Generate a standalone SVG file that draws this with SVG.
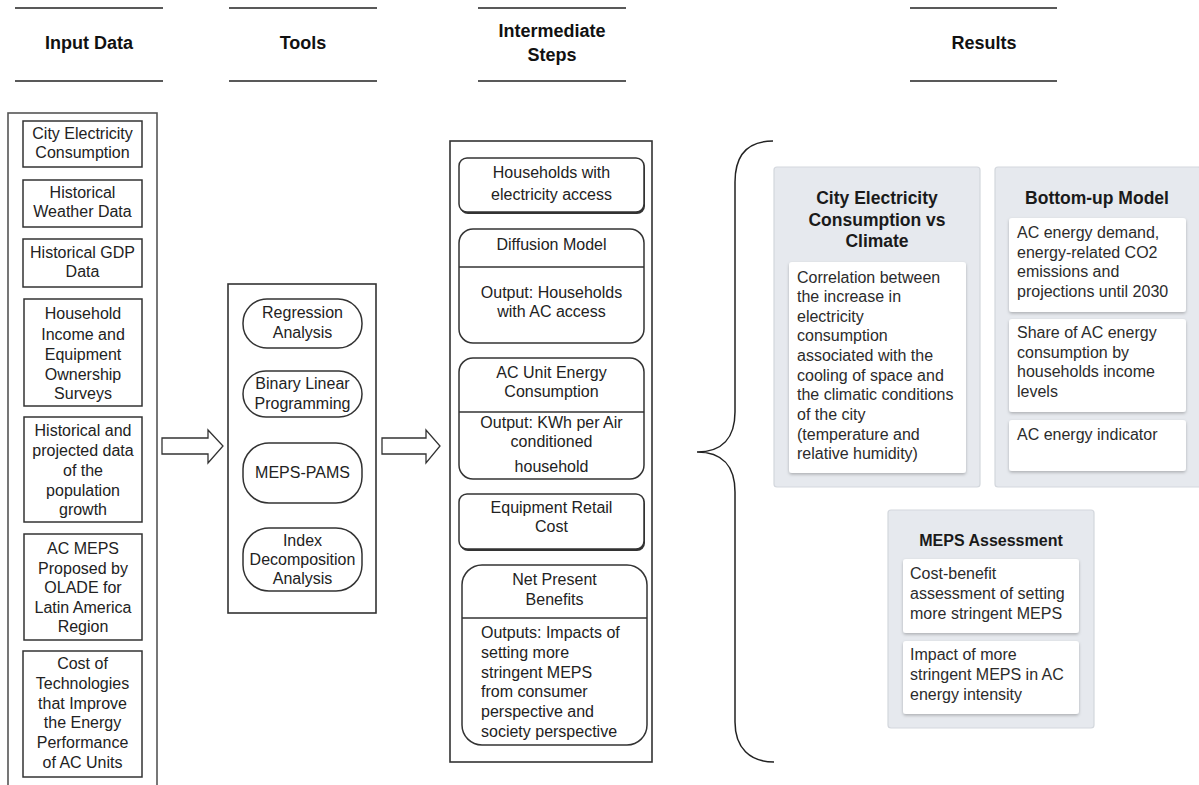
<svg xmlns="http://www.w3.org/2000/svg" width="1199" height="785" viewBox="0 0 1199 785">
<style>
text{font-family:"Liberation Sans",Arial,sans-serif;}
.hdr{font-size:18px;font-weight:bold;fill:#111;text-anchor:middle;}
.hl{stroke:#222;stroke-width:1.6;}
.t{font-size:16px;fill:#222;text-anchor:middle;}
.tl{font-size:16px;fill:#222;}
.box{fill:#fff;stroke:#333;stroke-width:1.5;}
.outer{fill:#fff;stroke:#555;stroke-width:1.6;}
.panel{fill:#e6e9ee;stroke:#d3d7dd;stroke-width:1.2;}
.card{fill:#fff;}
.pt{font-size:17.5px;font-weight:bold;fill:#1a1a1a;text-anchor:middle;}
.rt{font-size:16px;fill:#2b2b2b;}
.arrow{fill:#fff;stroke:#333;stroke-width:1.3;stroke-linejoin:miter;}
</style>
<defs>
<filter id="sh" x="-10%" y="-10%" width="120%" height="130%">
<feDropShadow dx="0" dy="1.5" stdDeviation="1.5" flood-color="#000" flood-opacity="0.25"/>
</filter>
</defs>
<rect width="1199" height="785" fill="#fff"/>

<g id="headers">
<line class="hl" x1="15" y1="8" x2="163" y2="8"/><line class="hl" x1="15" y1="81" x2="163" y2="81"/>
<text class="hdr" x="89" y="49">Input Data</text>
<line class="hl" x1="229" y1="8" x2="377" y2="8"/><line class="hl" x1="229" y1="81" x2="377" y2="81"/>
<text class="hdr" x="303" y="49">Tools</text>
<line class="hl" x1="478" y1="8" x2="626" y2="8"/><line class="hl" x1="478" y1="81" x2="626" y2="81"/>
<text class="hdr" x="552" y="37">Intermediate</text>
<text class="hdr" x="552" y="61">Steps</text>
<line class="hl" x1="910" y1="8" x2="1057" y2="8"/><line class="hl" x1="910" y1="81" x2="1057" y2="81"/>
<text class="hdr" x="984" y="49">Results</text>
</g>

<g id="input-data">
<rect class="outer" x="8" y="113" width="149" height="680"/>
<g id="in1"><rect class="box" x="23" y="121" width="119" height="46"/>
<text class="t" x="82.5" y="139">City Electricity</text><text class="t" x="82.5" y="158">Consumption</text></g>
<g id="in2"><rect class="box" x="23" y="180" width="119" height="47"/>
<text class="t" x="82.5" y="198">Historical</text><text class="t" x="82.5" y="217">Weather Data</text></g>
<g id="in3"><rect class="box" x="23" y="239" width="119" height="48"/>
<text class="t" x="82.5" y="258">Historical GDP</text><text class="t" x="82.5" y="277">Data</text></g>
<g id="in4"><rect class="box" x="24" y="299" width="118" height="107"/>
<text class="t" x="83" y="319">Household</text><text class="t" x="83" y="340">Income and</text><text class="t" x="83" y="360">Equipment</text><text class="t" x="83" y="380">Ownership</text><text class="t" x="83" y="399">Surveys</text></g>
<g id="in5"><rect class="box" x="24" y="417" width="118" height="105"/>
<text class="t" x="83" y="436">Historical and</text><text class="t" x="83" y="456">projected data</text><text class="t" x="83" y="476">of the</text><text class="t" x="83" y="496">population</text><text class="t" x="83" y="515">growth</text></g>
<g id="in6"><rect class="box" x="24" y="534" width="118" height="106"/>
<text class="t" x="83" y="554">AC MEPS</text><text class="t" x="83" y="574">Proposed by</text><text class="t" x="83" y="593">OLADE for</text><text class="t" x="83" y="613">Latin America</text><text class="t" x="83" y="632">Region</text></g>
<g id="in7"><rect class="box" x="23" y="651" width="119" height="126"/>
<text class="t" x="82.5" y="669">Cost of</text><text class="t" x="82.5" y="689">Technologies</text><text class="t" x="82.5" y="709">that Improve</text><text class="t" x="82.5" y="728">the Energy</text><text class="t" x="82.5" y="748">Performance</text><text class="t" x="82.5" y="768">of AC Units</text></g>
</g>

<g id="connectors">
<path class="arrow" d="M162 438 L208 438 L208 430 L223 446 L208 463 L208 454 L162 454 Z"/>
<path class="arrow" d="M382 438 L426 438 L426 430 L440 446 L426 463 L426 454 L382 454 Z"/>
<path d="M773 141 C750 141 735 152 735 182 L735 412 C735 438 722 452 697 452 C722 452 735 466 735 492 L735 722 C735 748 750 762 774 762" fill="none" stroke="#222" stroke-width="1.5"/>
</g>

<g id="tools">
<rect class="outer" x="228" y="284" width="148" height="329" style="stroke:#333"/>
<g id="t1"><rect class="box" x="243" y="299" width="119" height="49" rx="24"/>
<text class="t" x="302.5" y="318">Regression</text><text class="t" x="302.5" y="338">Analysis</text></g>
<g id="t2"><rect class="box" x="243" y="371" width="119" height="46" rx="23"/>
<text class="t" x="302.5" y="389">Binary Linear</text><text class="t" x="302.5" y="409">Programming</text></g>
<g id="t3"><rect class="box" x="243" y="443" width="119" height="60" rx="26"/>
<text class="t" x="302.5" y="478">MEPS-PAMS</text></g>
<g id="t4"><rect class="box" x="243" y="528" width="119" height="63" rx="26"/>
<text class="t" x="302.5" y="546">Index</text><text class="t" x="302.5" y="565">Decomposition</text><text class="t" x="302.5" y="584">Analysis</text></g>
</g>

<g id="intermediate">
<rect class="outer" x="450" y="141" width="202" height="621" style="stroke:#333"/>
<g id="s1"><rect x="460" y="160" width="185" height="54" rx="8" fill="#333"/>
<rect class="box" x="459" y="158" width="185" height="54" rx="8"/>
<text class="t" x="551.5" y="178">Households with</text><text class="t" x="551.5" y="200">electricity access</text></g>
<g id="s2"><rect class="box" x="459" y="229" width="185" height="114" rx="14"/>
<line x1="459" y1="267" x2="644" y2="267" stroke="#333" stroke-width="1.5"/>
<text class="t" x="551.5" y="250">Diffusion Model</text>
<text class="t" x="551.5" y="298">Output: Households</text><text class="t" x="551.5" y="317">with AC access</text></g>
<g id="s3"><rect class="box" x="459" y="358" width="185" height="121" rx="14"/>
<line x1="459" y1="412" x2="644" y2="412" stroke="#333" stroke-width="1.5"/>
<text class="t" x="551.5" y="378">AC Unit Energy</text><text class="t" x="551.5" y="397">Consumption</text>
<text class="t" x="551.5" y="428">Output: KWh per Air</text><text class="t" x="551.5" y="447">conditioned</text><text class="t" x="551.5" y="472">household</text></g>
<g id="s4"><rect x="460" y="496" width="185" height="55" rx="8" fill="#333"/>
<rect class="box" x="459" y="494" width="185" height="55" rx="8"/>
<text class="t" x="551.5" y="513">Equipment Retail</text><text class="t" x="551.5" y="532">Cost</text></g>
<g id="s5"><rect class="box" x="462" y="565" width="185" height="180" rx="20"/>
<line x1="462" y1="618" x2="647" y2="618" stroke="#333" stroke-width="1.5"/>
<text class="t" x="554.5" y="585">Net Present</text><text class="t" x="554.5" y="605">Benefits</text>
<text class="tl" x="481" y="638">Outputs: Impacts of</text><text class="tl" x="481" y="658">setting more</text><text class="tl" x="481" y="678">stringent MEPS</text><text class="tl" x="481" y="697">from consumer</text><text class="tl" x="481" y="717">perspective and</text><text class="tl" x="481" y="737">society perspective</text></g>
</g>

<g id="results">
<g id="r-city">
<rect class="panel" x="774" y="167" width="206" height="320" rx="3"/>
<text class="pt" x="877" y="204">City Electricity</text><text class="pt" x="877" y="226">Consumption vs</text><text class="pt" x="877" y="247">Climate</text>
<rect class="card" x="789" y="262" width="177" height="211" rx="3" filter="url(#sh)"/>
<text class="rt" x="797" y="283">Correlation between</text>
<text class="rt" x="797" y="302">the increase in</text>
<text class="rt" x="797" y="322">electricity</text>
<text class="rt" x="797" y="341">consumption</text>
<text class="rt" x="797" y="361">associated with the</text>
<text class="rt" x="797" y="381">cooling of space and</text>
<text class="rt" x="797" y="400">the climatic conditions</text>
<text class="rt" x="797" y="420">of the city</text>
<text class="rt" x="797" y="440">(temperature and</text>
<text class="rt" x="797" y="459">relative humidity)</text>
</g>
<g id="r-bottomup">
<rect class="panel" x="995" y="167" width="206" height="320" rx="3"/>
<text class="pt" x="1097" y="204">Bottom-up Model</text>
<rect class="card" x="1009" y="218" width="177" height="94" rx="3" filter="url(#sh)"/>
<text class="rt" x="1017" y="238">AC energy demand,</text>
<text class="rt" x="1017" y="258">energy-related CO2</text>
<text class="rt" x="1017" y="277">emissions and</text>
<text class="rt" x="1017" y="297">projections until 2030</text>
<rect class="card" x="1009" y="319" width="177" height="93" rx="3" filter="url(#sh)"/>
<text class="rt" x="1017" y="338">Share of AC energy</text>
<text class="rt" x="1017" y="358">consumption by</text>
<text class="rt" x="1017" y="377">households income</text>
<text class="rt" x="1017" y="397">levels</text>
<rect class="card" x="1009" y="420" width="177" height="51" rx="3" filter="url(#sh)"/>
<text class="rt" x="1017" y="440">AC energy indicator</text>
</g>
<g id="r-meps">
<rect class="panel" x="888" y="510" width="206" height="218" rx="3"/>
<text class="pt" x="991" y="546" style="font-size:16px">MEPS Assessment</text>
<rect class="card" x="903" y="559" width="176" height="74" rx="3" filter="url(#sh)"/>
<text class="rt" x="910" y="579">Cost-benefit</text>
<text class="rt" x="910" y="599">assessment of setting</text>
<text class="rt" x="910" y="619">more stringent MEPS</text>
<rect class="card" x="903" y="641" width="176" height="73" rx="3" filter="url(#sh)"/>
<text class="rt" x="910" y="660">Impact of more</text>
<text class="rt" x="910" y="680">stringent MEPS in AC</text>
<text class="rt" x="910" y="700">energy intensity</text>
</g>
</g>
</svg>
